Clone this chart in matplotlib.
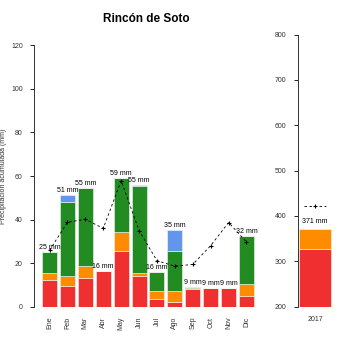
import matplotlib.pyplot as plt
import numpy as np

plt.rcParams['font.family'] = ['Liberation Sans', 'DejaVu Sans']

meses = ['Ene', 'Feb', 'Mar', 'Abr', 'May', 'Jun', 'Jul', 'Ago', 'Sep', 'Oct', 'Nov', 'Dic']
# stacked precipitation components per month (mm)
rojo = [12.3, 9.4, 13.4, 16.4, 25.6, 14.1, 3.7, 2.2, 8.1, 8.9, 8.8, 4.9]
naranja = [3.4, 4.7, 5.3, 0.0, 8.8, 1.4, 3.7, 5.2, 0.7, 0.0, 0.0, 5.5]
verde = [9.5, 34.1, 36.0, 0.0, 24.6, 39.8, 8.6, 18.1, 0.3, 0.0, 0.0, 22.2]
azul = [0.0, 3.1, 0.0, 0.0, 0.0, 0.5, 0.0, 9.7, 0.0, 0.0, 0.0, 0.0]
etiquetas = ['25 mm', '51 mm', '55 mm', '16 mm', '59 mm', '55 mm', '16 mm', '35 mm',
             '9 mm', '9 mm', '9 mm', '32 mm']
media = [26, 38.8, 40.2, 36.0, 57.9, 35.0, 21.2, 18.7, 19.5, 28.1, 38.7, 29.8]

anio = ['2017']
anual_rojo = [326.5]
anual_naranja = [45.5]
anual_etiqueta = '371 mm'
anual_media = 422

c_rojo = '#f03030'
c_naranja = '#ff8c00'
c_verde = '#228b22'
c_azul = '#6495ed'
gris = '#333333'

fig = plt.figure(figsize=(3.5, 3.5), dpi=100)
ax = fig.add_axes([0.097, 0.123, 0.64, 0.748])
x = np.arange(len(meses))
w = 0.84
ek = dict(edgecolor='#f4f8f4', linewidth=0.4)
b = np.zeros(len(meses))
for vals, col in [(rojo, c_rojo), (naranja, c_naranja), (verde, c_verde), (azul, c_azul)]:
    ax.bar(x, vals, w, bottom=b, color=col, **ek)
    b = b + np.array(vals)
for xi, tot, lab in zip(x, b, etiquetas):
    ax.text(xi, tot + 0.4, lab, ha='center', va='bottom', fontsize=5, color='black')
ax.plot(x, media, color='black', linestyle=(0, (3, 3)), linewidth=0.6,
        marker='+', markersize=3, markeredgewidth=0.8)
ax.set_xlim(-0.87, 11.64)
ax.set_ylim(0, 120)
ax.set_yticks(range(0, 121, 20))
ax.set_xticks(x)
ax.set_xticklabels(meses, rotation=90)
ax.tick_params(axis='x', length=0, pad=7, labelsize=5, labelcolor=gris)
ax.tick_params(axis='y', length=3, width=0.6, labelsize=5, labelcolor=gris, pad=5)
for s in ['top', 'right', 'bottom']:
    ax.spines[s].set_visible(False)
ax.spines['left'].set_linewidth(0.7)
ax.spines['left'].set_color(gris)
ax.set_ylabel('Precipitación acumulada (mm)', fontsize=5, color=gris, labelpad=3)
ax.set_title('Rincón de Soto', fontsize=8.5, fontweight='bold', pad=17)

ax2 = fig.add_axes([0.851, 0.124, 0.105, 0.777])
ax2.bar([0], [v - 200 for v in anual_rojo], 0.9, bottom=200, color=c_rojo, **ek)
ax2.bar([0], anual_naranja, 0.9, bottom=anual_rojo, color=c_naranja, **ek)
tot = anual_rojo[0] + anual_naranja[0]
ax2.text(0, tot + 8, anual_etiqueta, ha='center', va='bottom', fontsize=5)
ax2.plot([-0.3, 0.3], [anual_media, anual_media], color='black', linestyle=(0, (3, 3)),
         linewidth=0.6)
ax2.plot([0], [anual_media], color='black', marker='+', markersize=3, markeredgewidth=0.8)
ax2.set_xlim(-0.48, 0.55)
ax2.set_ylim(200, 800)
ax2.set_yticks(range(200, 801, 100))
ax2.set_xticks([0])
ax2.set_xticklabels(anio)
ax2.tick_params(axis='x', length=0, pad=7, labelsize=5, labelcolor=gris)
ax2.tick_params(axis='y', length=3, width=0.6, labelsize=5, labelcolor=gris, pad=5)
for s in ['top', 'right', 'bottom']:
    ax2.spines[s].set_visible(False)
ax2.spines['left'].set_linewidth(0.7)
ax2.spines['left'].set_color(gris)

fig.savefig('out.png', dpi=100)
